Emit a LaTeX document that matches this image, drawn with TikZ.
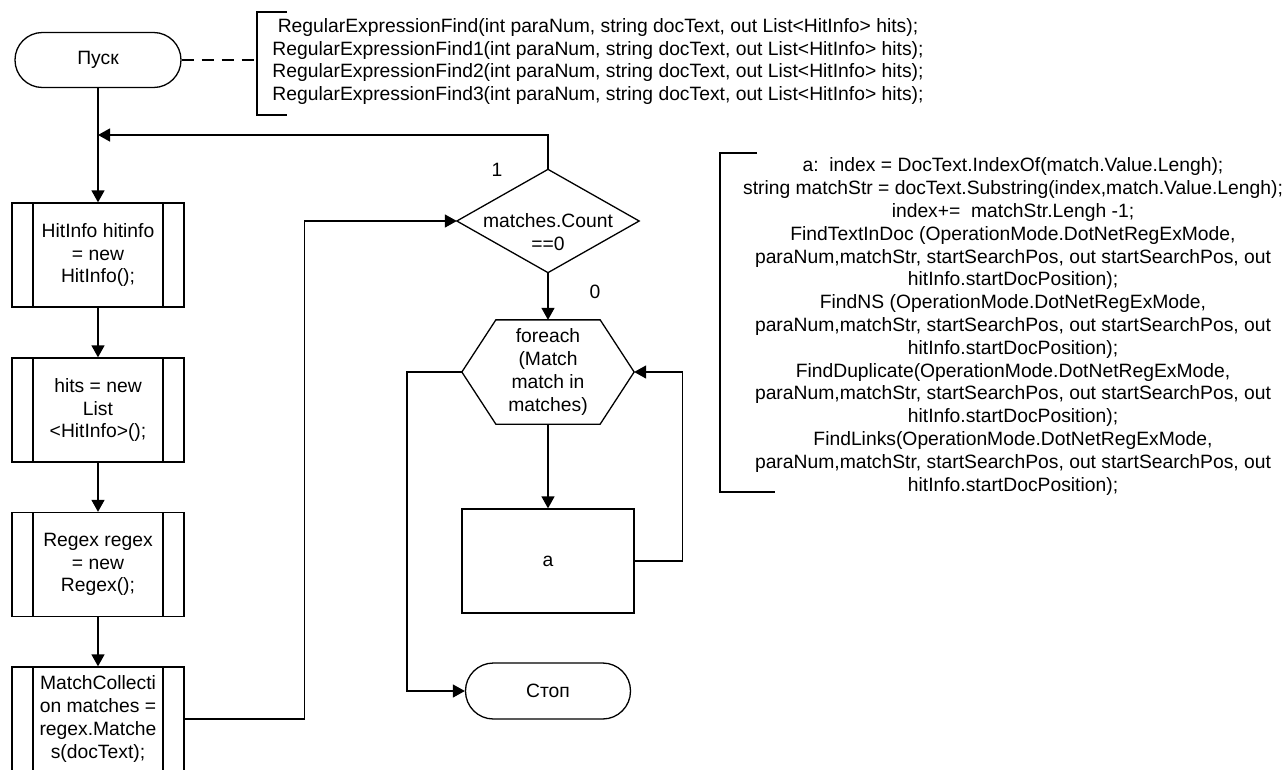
\documentclass[tikz,border=0pt]{standalone}
\usepackage{fontspec}
\setmainfont{Liberation Sans}
\usetikzlibrary{arrows.meta}
\begin{document}
\begin{tikzpicture}[x=1pt,y=-1pt,line width=1.3pt,
  every node/.style={font=\fontsize{19.3}{22.8}\selectfont, inner sep=0pt},
  term/.style={draw, rounded corners=27.4pt, minimum width=166pt, minimum height=55pt},
  subproc/.style={draw, minimum width=172pt, minimum height=104pt, align=center,
    path picture={\draw ([xshift=21pt]path picture bounding box.north west) -- ([xshift=21pt]path picture bounding box.south west)
      ([xshift=-21pt]path picture bounding box.north east) -- ([xshift=-21pt]path picture bounding box.south east);}},
  procbox/.style={draw, minimum width=172pt, minimum height=104pt, align=center},
  txt/.style={align=center},
  arr/.style={-{Triangle[length=12pt,width=13pt]}},
  commentline/.style={dash pattern=on 12pt off 8pt}
]
\useasboundingbox (0,0) rectangle (1287,769);

% left column
\node[term] (start) at (98,60) {Пуск};
\node[subproc] (b1) at (98,255) {HitInfo hitinfo\\= new\\HitInfo();};
\node[subproc] (b2) at (98,410) {hits = new\\List\\<HitInfo>();};
\node[subproc] (b3) at (98,564.5) {Regex regex\\= new\\Regex();};
\node[subproc] (b4) at (98,719) {MatchCollecti\\on matches =\\regex.Matche\\s(docText);};

% decision
\node[minimum width=181pt, minimum height=102pt] (dec) at (548,221) {};
\draw (dec.north) -- (dec.east) -- (dec.south) -- (dec.west) -- cycle;
\node[txt] (dect) at (548,232) {matches.Count\\==0};

% loop hexagon
\node[txt, minimum width=171pt, minimum height=103pt] (loop) at (548,372) {foreach\\(Match\\match in\\matches)};
\draw (loop.west) -- ([xshift=34pt]loop.north west) -- ([xshift=-34pt]loop.north east) -- (loop.east)
  -- ([xshift=-34pt]loop.south east) -- ([xshift=34pt]loop.south west) -- cycle;

\node[procbox] (a) at (548,561) {a};
\node[term, minimum width=165pt, minimum height=56pt, rounded corners=27.9pt] (stop) at (548,691) {Стоп};

% labels
\node (l1) at (497,170) {1};
\node (l0) at (595,292) {0};

% comments
\node[txt] (cm1) at (598,61.5) {RegularExpressionFind(int paraNum, string docText, out List<HitInfo> hits);\\
RegularExpressionFind1(int paraNum, string docText, out List<HitInfo> hits);\\
RegularExpressionFind2(int paraNum, string docText, out List<HitInfo> hits);\\
RegularExpressionFind3(int paraNum, string docText, out List<HitInfo> hits);};
\draw (287,12) -- (257,12) -- (257,115) -- (287,115);
\coordinate (br1) at (257,60);
\draw[commentline] (start.east) -- (br1);

\node[txt] (cm2) at (1013,326.5) {a:\ \ index = DocText.IndexOf(match.Value.Lengh);\\
string matchStr = docText.Substring(index,match.Value.Lengh);\\
index+=\ \ matchStr.Lengh -1;\\
FindTextInDoc (OperationMode.DotNetRegExMode,\\
paraNum,matchStr, startSearchPos, out startSearchPos, out\\
hitInfo.startDocPosition);\\
FindNS (OperationMode.DotNetRegExMode,\\
paraNum,matchStr, startSearchPos, out startSearchPos, out\\
hitInfo.startDocPosition);\\
FindDuplicate(OperationMode.DotNetRegExMode,\\
paraNum,matchStr, startSearchPos, out startSearchPos, out\\
hitInfo.startDocPosition);\\
FindLinks(OperationMode.DotNetRegExMode,\\
paraNum,matchStr, startSearchPos, out startSearchPos, out\\
hitInfo.startDocPosition);};
\draw (757,153) -- (720,153) -- (720,492) -- (775,492);

% connectors
\coordinate (j) at (98,135);
\draw[arr] (start.south) -- (b1.north);
\draw[arr] (dec.north) |- (j);
\draw[arr] (b1) -- (b2);
\draw[arr] (b2) -- (b3);
\draw[arr] (b3) -- (b4);
\draw[arr] (b4.east) -- ++(120,0) |- (dec.west);
\draw[arr] (dec.south) -- (loop.north);
\draw[arr] (loop.south) -- (a.north);
\draw[arr] (a.east) -- ++(48,0) |- (loop.east);
\draw[arr] (loop.west) -- ++(-55,0) |- (stop.west);
\end{tikzpicture}
\end{document}
